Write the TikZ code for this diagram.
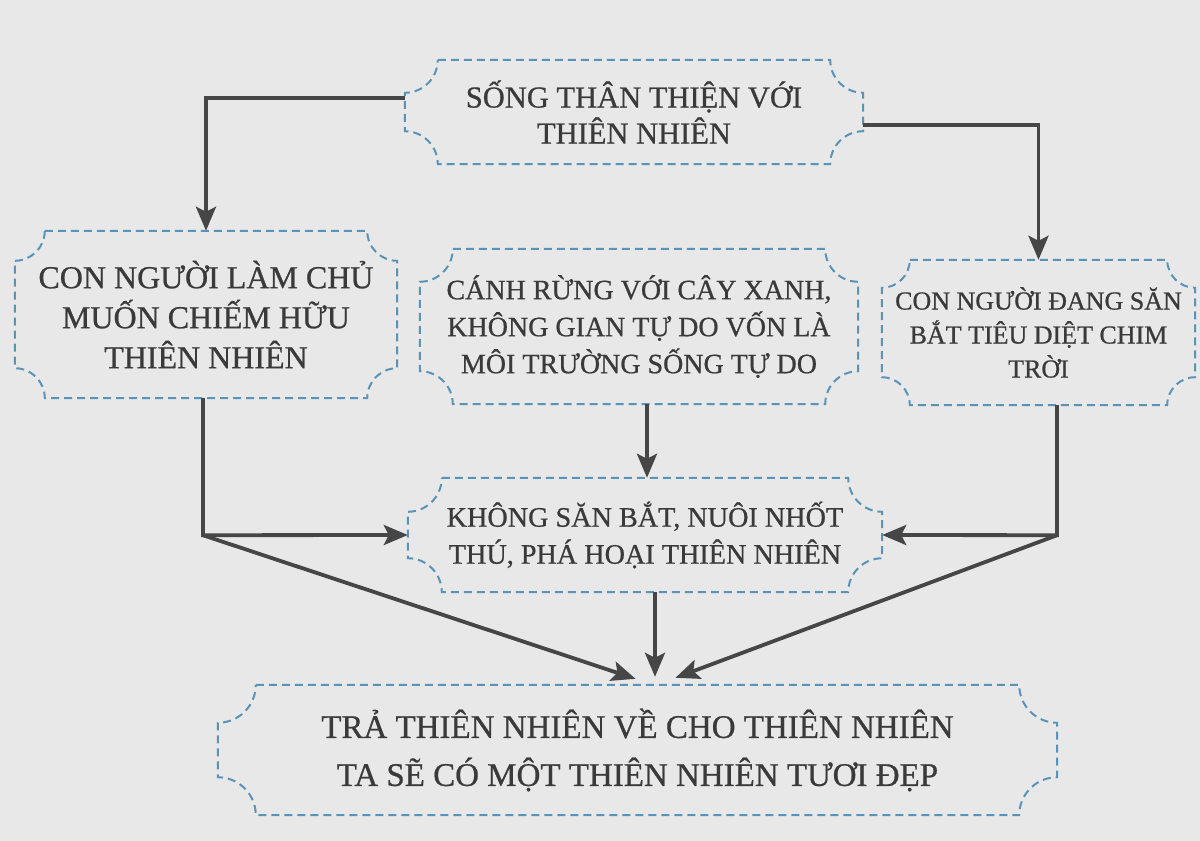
\documentclass[tikz,border=0pt]{standalone}
\usepackage{fontspec}
\setmainfont{Liberation Serif}[FakeBold=0.7]
\usetikzlibrary{arrows.meta,calc}
\definecolor{paper}{HTML}{E8E8E9}
\definecolor{dashblue}{HTML}{5A93B8}
\definecolor{ink}{HTML}{3A3A3A}
\definecolor{arrowgray}{HTML}{464646}
\tikzset{
  card/.style={inner sep=0pt, align=center, text=ink},
  cardline/.style={draw=dashblue, line width=2pt, dash pattern=on 8pt off 5pt},
  link/.style={draw=arrowgray, line width=3.8pt, -{Stealth[length=24pt,width=20pt,inset=5pt]}},
}
\newcommand{\cardborder}[2]{%
  \draw[cardline] ($(#1.north west)+(#2pt,0)$) -- ($(#1.north east)+(-#2pt,0)$)
    arc[start angle=180,end angle=270,radius=#2pt]
    -- ($(#1.south east)+(0,#2pt)$)
    arc[start angle=90,end angle=180,radius=#2pt]
    -- ($(#1.south west)+(#2pt,0)$)
    arc[start angle=0,end angle=90,radius=#2pt]
    -- ($(#1.north west)+(0,-#2pt)$)
    arc[start angle=270,end angle=360,radius=#2pt]
    -- cycle;}
\begin{document}
\begin{tikzpicture}[x=1pt,y=1pt]
\fill[paper] (0,0) rectangle (1200,-841);
\useasboundingbox (0,0) rectangle (1200,-841);

\node[card, minimum width=458pt, minimum height=104pt, font=\fontsize{30.5}{36}\selectfont] (top) at (634,-112) {SỐNG THÂN THIỆN VỚI\\THIÊN NHIÊN};
\node[card, minimum width=382pt, minimum height=167pt, font=\fontsize{32}{40}\selectfont] (left) at (206,-314.5) {CON NGƯỜI LÀM CHỦ\\MUỐN CHIẾM HỮU\\THIÊN NHIÊN};
\node[card, minimum width=438pt, minimum height=155pt, font=\fontsize{28}{37}\selectfont] (middle) at (639,-326.5) {CÁNH RỪNG VỚI CÂY XANH,\\KHÔNG GIAN TỰ DO VỐN LÀ\\MÔI TRƯỜNG SỐNG TỰ DO};
\node[card, minimum width=313pt, minimum height=145pt, font=\fontsize{26}{34}\selectfont] (right) at (1038.5,-332.5) {CON NGƯỜI ĐANG SĂN\\BẮT TIÊU DIỆT CHIM\\TRỜI};
\node[card, minimum width=474pt, minimum height=114pt, font=\fontsize{28.2}{37}\selectfont] (khong) at (645,-535) {KHÔNG SĂN BẮT, NUÔI NHỐT\\THÚ, PHÁ HOẠI THIÊN NHIÊN};
\node[card, minimum width=839pt, minimum height=130pt, font=\fontsize{33}{48}\selectfont] (bottom) at (637.5,-750) {TRẢ THIÊN NHIÊN VỀ CHO THIÊN NHIÊN\\TA SẼ CÓ MỘT THIÊN NHIÊN TƯƠI ĐẸP};

\cardborder{top}{33}
\cardborder{left}{30}
\cardborder{middle}{33}
\cardborder{right}{28}
\cardborder{khong}{34}
\cardborder{bottom}{38}

\path (left.south) ++(-3,-137) coordinate (lj);
\path (right.south) ++(18.5,-130) coordinate (rj);
\path (middle.south) ++(8,0) coordinate (ms);
\path (khong.south) ++(10,0) coordinate (ks);

\draw[link] ($(top.west)+(0,14)$) -| (left.north);
\draw[link] ($(top.east)+(0,-13)$) -| (right.north);
\draw[link] ($(left.south)+(-3,0)$) -- (lj) -- (khong.west);
\draw[link] ($(right.south)+(18.5,0)$) -- (rj) -- (khong.east);
\draw[link] (ms) -- (ms |- khong.north);
\draw[link] (lj) -- ($(bottom.north)+(-2,6)$);
\draw[link] (rj) -- ($(bottom.north)+(38,7)$);
\draw[link] (ks) -- ($(bottom.north)+(17.5,8)$);
\end{tikzpicture}
\end{document}
